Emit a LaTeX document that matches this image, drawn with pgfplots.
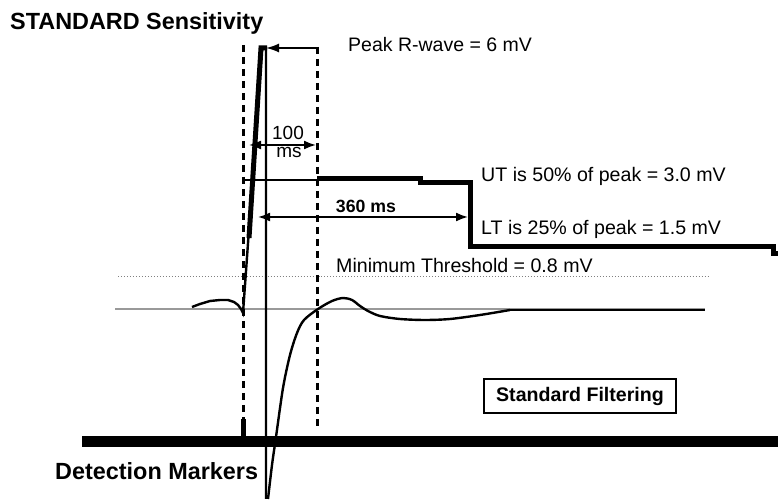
\documentclass[border=0pt]{standalone}
\usepackage{pgfplots}
\pgfplotsset{compat=1.18}
\usepackage{fontspec}
\setmainfont{Liberation Sans}
\usetikzlibrary{arrows.meta}
\begin{document}
\begin{tikzpicture}
\begin{axis}[
  scale only axis, width=778bp, height=500bp,
  xmin=0, xmax=778, ymin=0, ymax=500, y dir=reverse,
  hide axis, clip=false,
]
% baseline and minimum threshold
\addplot[gray!80, line width=1.1bp] coordinates {(115,309) (705,309)};
\addplot[gray, dotted, line width=1bp] coordinates {(118,277) (710,277)};
% dashed verticals
\addplot[black, line width=3bp, dash pattern=on 7bp off 5bp] coordinates {(243,45) (243,430)};
\addplot[black, line width=3bp, dash pattern=on 7bp off 5bp] coordinates {(317,47) (317,430)};
% detection bar and marker
\addplot[black, line width=11bp] coordinates {(82,441.5) (778,441.5)};
\addplot[black, line width=5bp] coordinates {(243,419) (243,437)};
% signal
\addplot[black, line width=2.4bp] coordinates {(192,307) (200,304) (210,301) (220,300) (228,300) (234,302) (238,305) (241,309) (243,313) (262,48) (266,48) (266,499)};
\addplot[black, line width=2.4bp, smooth, tension=0.5] coordinates {(268,499) (272,465) (276,437) (283,388) (290,355) (297,333) (304,320) (318,309) (332,301) (343,298) (352,300) (360,306) (368,311) (380,316) (400,319) (425,320) (450,319) (480,315) (510,310)};
\addplot[black, line width=2.4bp] coordinates {(510,310) (705,310)};
% threshold
\addplot[black, line width=5bp] coordinates {(249,238) (261,48) (267,48)};
\addplot[black, line width=1.4bp] coordinates {(243,180) (317,180)};
\addplot[black, line width=5bp] coordinates {(317,179) (420,179) (420,183) (470,183) (470,247) (773,247) (773,254) (778,254)};
% arrows
\addplot[black, line width=1.8bp, -{Latex[length=13bp,width=9bp]}] coordinates {(317,48) (266,48)};
\addplot[black, line width=1.8bp, {Latex[length=12bp,width=9bp]}-{Latex[length=12bp,width=9bp]}] coordinates {(249,145) (316,145)};
\addplot[black, line width=1.8bp, {Latex[length=12bp,width=9bp]}-{Latex[length=12bp,width=9bp]}] coordinates {(258,217) (468,217)};
% texts
\node[anchor=base west, inner sep=0, font=\fontsize{23.4bp}{26bp}\selectfont\bfseries] at (axis cs:10,30) {STANDARD Sensitivity};
\node[anchor=base west, inner sep=0, font=\fontsize{19.5bp}{22bp}\selectfont] at (axis cs:348,52) {Peak R-wave = 6 mV};
\node[anchor=base, inner sep=0, font=\fontsize{19bp}{21bp}\selectfont] at (axis cs:288,140) {100};
\node[anchor=base, inner sep=0, font=\fontsize{19bp}{21bp}\selectfont] at (axis cs:289,158) {ms};
\node[anchor=base, inner sep=0, font=\fontsize{17.7bp}{20bp}\selectfont\bfseries] at (axis cs:366,213) {360 ms};
\node[anchor=base west, inner sep=0, font=\fontsize{19.6bp}{22bp}\selectfont] at (axis cs:481,182) {UT is 50\% of peak = 3.0 mV};
\node[anchor=base west, inner sep=0, font=\fontsize{19.6bp}{22bp}\selectfont] at (axis cs:481,235) {LT is 25\% of peak = 1.5 mV};
\node[anchor=base west, inner sep=0, font=\fontsize{19.6bp}{22bp}\selectfont] at (axis cs:336,273) {Minimum Threshold = 0.8 mV};
\node[draw, line width=1.6bp, minimum width=192bp, minimum height=34bp, inner sep=0, font=\fontsize{19.6bp}{22bp}\selectfont\bfseries] at (axis cs:580,396) {Standard Filtering};
\node[anchor=base west, inner sep=0, font=\fontsize{23.4bp}{26bp}\selectfont\bfseries] at (axis cs:55,480) {Detection Markers};
\end{axis}
\pgfresetboundingbox
\path (current axis.south west) rectangle (current axis.north east);
\end{tikzpicture}
\end{document}
